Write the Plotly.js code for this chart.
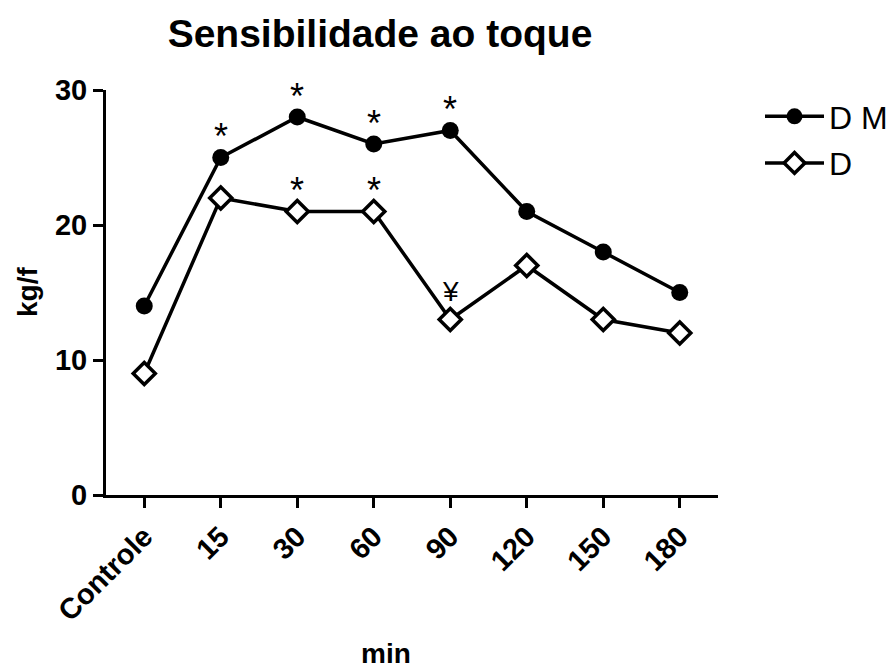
<!DOCTYPE html>
<html>
<head>
<meta charset="utf-8">
<script src="https://cdn.plot.ly/plotly-3.0.1.min.js"></script>
<style>html,body{margin:0;padding:0;background:#fff;}</style>
</head>
<body>
<div id="chart" style="width:896px;height:669px;"></div>
<script>
const categories = ["Controle", "15", "30", "60", "90", "120", "150", "180"];
const seriesDM = [14, 25, 28, 26, 27, 21, 18, 15];
const seriesD = [9, 22, 21, 21, 13, 17, 13, 12];
const marksDM = ["", "*", "*", "*", "*", "", "", ""];
const marksD = ["", "", "*", "*", "¥", "", "", ""];
const yTicks = [0, 10, 20, 30];

const FONT = "Arial, 'Liberation Sans', sans-serif";

const traces = [
  {
    x: categories, y: seriesDM, name: "D M", type: "scatter", mode: "lines+markers", legendgroup: "a",
    line: {color: "#000", width: 3.5},
    marker: {symbol: "circle", size: 17, color: "#000"}
  },
  {
    x: categories, y: seriesD, name: "D", type: "scatter", mode: "lines+markers", legendgroup: "b",
    line: {color: "#000", width: 3.5},
    marker: {symbol: "diamond", size: 17, color: "#fff", line: {color: "#000", width: 3.5}}
  }
];

const annotations = [];
function addMark(i, y, txt) {
  const yen = txt === "¥";
  annotations.push({x: i, y: y, xref: "x", yref: "y", text: txt,
    showarrow: false, xanchor: "center", yanchor: "middle", yshift: yen ? 28 : 21,
    font: {family: FONT, size: yen ? 28 : 36, color: "#000"}});
}
categories.forEach((c, i) => {
  if (marksDM[i]) addMark(i, seriesDM[i], marksDM[i]);
  if (marksD[i]) addMark(i, seriesD[i], marksD[i]);
});
annotations.push({xref: "paper", yref: "paper", x: (386 - 106) / 612, y: (495 - 653) / 405, text: "min",
  showarrow: false, xanchor: "center", yanchor: "middle", font: {family: FONT, size: 28, color: "#000", weight: "bold"}});
annotations.push({xref: "paper", yref: "paper", x: (27 - 106) / 612, y: (495 - 292) / 405, text: "kg/f", textangle: -90,
  showarrow: false, xanchor: "center", yanchor: "middle", font: {family: FONT, size: 28, color: "#000", weight: "bold"}});

const layout = {
  width: 896, height: 669,
  margin: {l: 106, r: 178, t: 90, b: 174, pad: 0},
  paper_bgcolor: "#fff", plot_bgcolor: "#fff",
  font: {family: FONT, color: "#000"},
  title: {text: "Sensibilidade ao toque", xref: "container", yref: "container", x: 380 / 896, y: 1 - 33 / 669,
    xanchor: "center", yanchor: "middle", font: {family: FONT, size: 39, weight: "bold", color: "#000"}},
  xaxis: {
    type: "category", range: [-0.5, 7.5], showgrid: false, zeroline: false,
    showline: true, linecolor: "#000", linewidth: 3,
    ticks: "outside", ticklen: 10, tickwidth: 3, tickcolor: "#000",
    tickangle: -45, tickfont: {family: FONT, size: 29, weight: "bold", color: "#000"}
  },
  yaxis: {
    range: [0, 30], tickvals: yTicks, showgrid: false, zeroline: false,
    showline: true, linecolor: "#000", linewidth: 3,
    ticks: "outside", ticklen: 10, tickwidth: 3, tickcolor: "#000",
    tickfont: {family: FONT, size: 29, weight: "bold", color: "#000"}
  },
  showlegend: true,
  legend: {xref: "container", yref: "container", x: 760 / 896, y: 1 - 89 / 669, xanchor: "left", yanchor: "top",
    bgcolor: "rgba(0,0,0,0)", font: {family: FONT, size: 32, color: "#000"}, itemwidth: 59, tracegroupgap: 2},
  annotations: annotations
};

Plotly.newPlot("chart", traces, layout, {displayModeBar: false, staticPlot: true});
</script>
</body>
</html>
